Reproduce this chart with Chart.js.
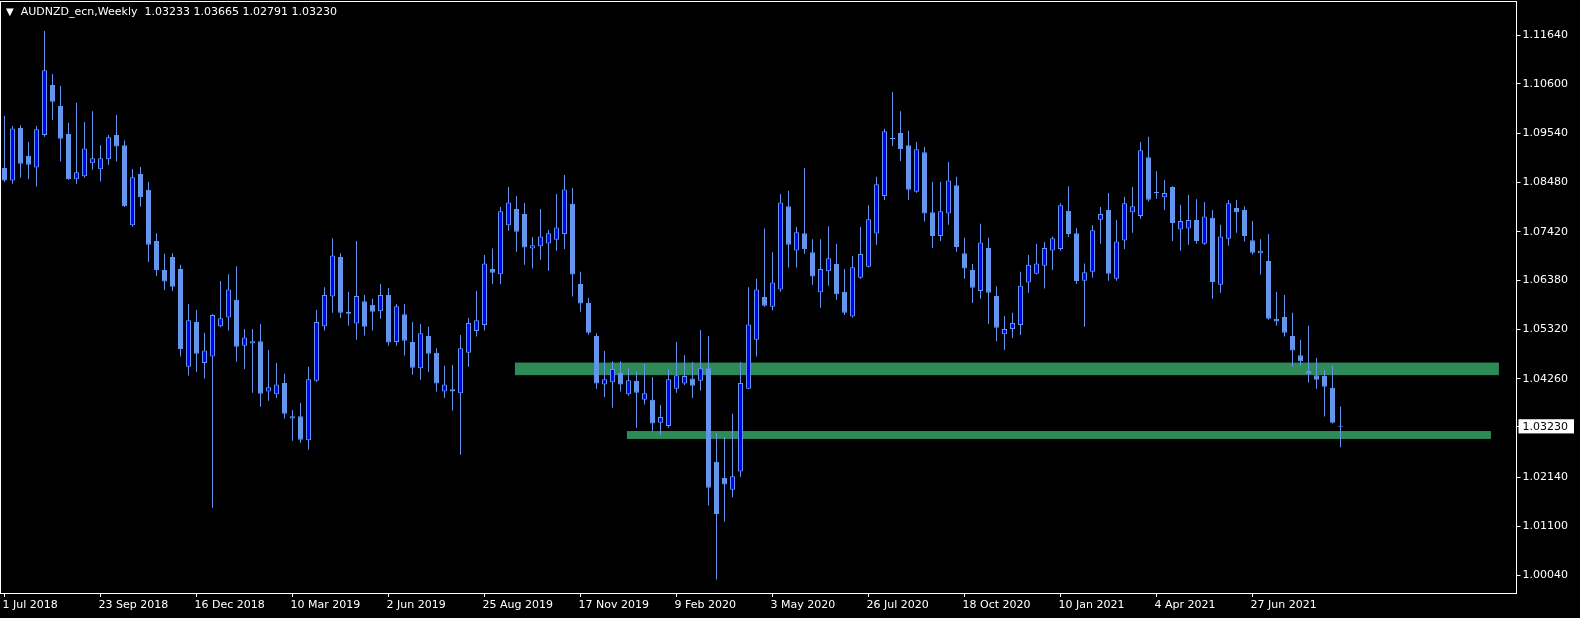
<!DOCTYPE html>
<html>
<head>
<meta charset="utf-8">
<title>AUDNZD_ecn, Weekly</title>
<script src="https://cdn.jsdelivr.net/npm/chart.js@4.4.1/dist/chart.umd.min.js"></script>
<style>
    html, body { margin: 0; padding: 0; background: #000; }
    #wrap { position: relative; width: 1580px; height: 618px; overflow: hidden; }
    #weeklyChart { display: block; }
    #chartTitle {
        position: absolute; left: 6px; top: 5px;
        color: #fff; font: 11px "DejaVu Sans", sans-serif; white-space: pre;
    }
    #chartTitle .arrow { font-size: 10px; margin-right: 7px; }
</style>
</head>
<body>
<div id="wrap">
    <canvas id="weeklyChart" width="1580" height="618"></canvas>
    <div id="chartTitle"></div>
</div>
<script>
const symbolName = "AUDNZD_ecn";
const periodName = "Weekly";

const xTickLabels = ["1 Jul 2018", "23 Sep 2018", "16 Dec 2018", "10 Mar 2019", "2 Jun 2019", "25 Aug 2019",
    "17 Nov 2019", "9 Feb 2020", "3 May 2020", "26 Jul 2020", "18 Oct 2020", "10 Jan 2021", "4 Apr 2021", "27 Jun 2021"];
const barsPerTick = 12;

const yTickValues = [1.11640, 1.10600, 1.09540, 1.08480, 1.07420, 1.06380, 1.05320, 1.04260, 1.02140, 1.01100, 1.00040];
const currentPrice = 1.03230;

// weekly candles, oldest first
const opens = [
    1.0879, 1.0852, 1.0965, 1.0905, 1.0880, 1.0950, 1.1057, 1.1012, 1.0952, 1.0855,
    1.0861, 1.0889, 1.0876, 1.0898, 1.0950, 1.0928, 1.0756, 1.0866, 1.0832, 1.0722,
    1.0660, 1.0688, 1.0662, 1.0452, 1.0548, 1.0460, 1.0474, 1.0539, 1.0558, 1.0596,
    1.0497, 1.0502, 1.0507, 1.0399, 1.0393, 1.0417, 1.0341, 1.0346, 1.0294, 1.0422,
    1.0539, 1.0603, 1.0688, 1.0570, 1.0545, 1.0593, 1.0585, 1.0571, 1.0606, 1.0505,
    1.0565, 1.0505, 1.0449, 1.0518, 1.0482, 1.0399, 1.0404, 1.0395, 1.0482, 1.0529,
    1.0542, 1.0662, 1.0651, 1.0756, 1.0791, 1.0780, 1.0706, 1.0711, 1.0717, 1.0725,
    1.0737, 1.0802, 1.0630, 1.0589, 1.0518, 1.0414, 1.0419, 1.0439, 1.0393, 1.0422,
    1.0381, 1.0381, 1.0332, 1.0325, 1.0405, 1.0416, 1.0427, 1.0422, 1.0449, 1.0248,
    1.0213, 1.0188, 1.0227, 1.0405, 1.0510, 1.0602, 1.0581, 1.0618, 1.0797, 1.0702,
    1.0739, 1.0698, 1.0612, 1.0657, 1.0673, 1.0613, 1.0560, 1.0643, 1.0667, 1.0738,
    1.0819, 1.0941, 1.0954, 1.0928, 1.0828, 1.0913, 1.0784, 1.0733, 1.0781, 1.0842,
    1.0696, 1.0660, 1.0615, 1.0707, 1.0604, 1.0522, 1.0533, 1.0542, 1.0633, 1.0652,
    1.0669, 1.0702, 1.0705, 1.0787, 1.0739, 1.0637, 1.0656, 1.0768, 1.0789, 1.0641,
    1.0723, 1.0784, 1.0776, 1.0902, 1.0827, 1.0816, 1.0838, 1.0747, 1.0749, 1.0767,
    1.0716, 1.0772, 1.0628, 1.0727, 1.0793, 1.0789, 1.0724, 1.0696, 1.0679, 1.0555,
    1.0559, 1.0518, 1.0477, 1.0443, 1.0434, 1.0432, 1.0407, 1.03233
];
const highs = [
    1.0991, 1.0969, 1.0971, 1.0935, 1.0969, 1.1173, 1.1081, 1.1055, 1.0976, 1.1019,
    1.0978, 1.1001, 1.0928, 1.0950, 1.0993, 1.0938, 1.0877, 1.0881, 1.0849, 1.0739,
    1.0695, 1.0696, 1.0671, 1.0587, 1.0574, 1.0525, 1.0565, 1.0636, 1.0651, 1.0668,
    1.0533, 1.0533, 1.0544, 1.0488, 1.0460, 1.0437, 1.0359, 1.0374, 1.0452, 1.0574,
    1.0623, 1.0728, 1.0696, 1.0613, 1.0722, 1.0606, 1.0598, 1.0630, 1.0621, 1.0587,
    1.0587, 1.0548, 1.0544, 1.0538, 1.0492, 1.0454, 1.0456, 1.0520, 1.0557, 1.0615,
    1.0692, 1.0706, 1.0795, 1.0838, 1.0819, 1.0804, 1.0731, 1.0791, 1.0746, 1.0823,
    1.0864, 1.0836, 1.0656, 1.0600, 1.0524, 1.0486, 1.0464, 1.0464, 1.0449, 1.0442,
    1.0458, 1.0430, 1.0370, 1.0447, 1.0505, 1.0477, 1.0462, 1.0531, 1.0518, 1.0310,
    1.0301, 1.0351, 1.0462, 1.0623, 1.0641, 1.0749, 1.0698, 1.0823, 1.0830, 1.0752,
    1.0879, 1.0726, 1.0726, 1.0754, 1.0716, 1.0662, 1.0690, 1.0752, 1.0799, 1.0860,
    1.0963, 1.1042, 1.1001, 1.0959, 1.0935, 1.0924, 1.0849, 1.0849, 1.0892, 1.0860,
    1.0729, 1.0673, 1.0759, 1.0729, 1.0625, 1.0561, 1.0568, 1.0656, 1.0692, 1.0716,
    1.0720, 1.0732, 1.0803, 1.0840, 1.0750, 1.0674, 1.0756, 1.0795, 1.0825, 1.0767,
    1.0817, 1.0838, 1.0935, 1.0946, 1.0872, 1.0853, 1.0840, 1.0800, 1.0821, 1.0812,
    1.0806, 1.0789, 1.0757, 1.0810, 1.0810, 1.0797, 1.0765, 1.0726, 1.0737, 1.0613,
    1.0606, 1.0568, 1.0510, 1.0540, 1.0471, 1.0445, 1.0454, 1.03665
];
const lows = [
    1.0849, 1.0845, 1.0858, 1.0855, 1.0839, 1.0946, 1.0982, 1.0893, 1.0853, 1.0845,
    1.0858, 1.0875, 1.0850, 1.0886, 1.0893, 1.0795, 1.0753, 1.0796, 1.0677, 1.0647,
    1.0617, 1.0615, 1.0474, 1.0433, 1.0441, 1.0427, 1.0149, 1.0537, 1.0530, 1.0463,
    1.0447, 1.0396, 1.0366, 1.0379, 1.0385, 1.0341, 1.0293, 1.0289, 1.0274, 1.0420,
    1.0530, 1.0568, 1.0557, 1.0540, 1.0510, 1.0519, 1.0530, 1.0555, 1.0497, 1.0497,
    1.0476, 1.0435, 1.0424, 1.0441, 1.0399, 1.0385, 1.0358, 1.0263, 1.0452, 1.0517,
    1.0530, 1.0630, 1.0629, 1.0744, 1.0699, 1.0671, 1.0663, 1.0682, 1.0658, 1.0701,
    1.0705, 1.0603, 1.0570, 1.0521, 1.0405, 1.0387, 1.0364, 1.0399, 1.0390, 1.0321,
    1.0371, 1.0313, 1.0306, 1.0321, 1.0396, 1.0413, 1.0385, 1.0401, 1.0154, 0.9995,
    1.0119, 1.0172, 1.0216, 1.0404, 1.0474, 1.0581, 1.0573, 1.0613, 1.0665, 1.0665,
    1.0695, 1.0628, 1.0579, 1.0626, 1.0596, 1.0563, 1.0558, 1.0641, 1.0665, 1.0714,
    1.0810, 1.0926, 1.0894, 1.0810, 1.0826, 1.0764, 1.0707, 1.0722, 1.0757, 1.0699,
    1.0641, 1.0589, 1.0598, 1.0544, 1.0507, 1.0488, 1.0514, 1.0520, 1.0611, 1.0650,
    1.0620, 1.0660, 1.0701, 1.0731, 1.0630, 1.0538, 1.0643, 1.0716, 1.0637, 1.0637,
    1.0705, 1.0740, 1.0770, 1.0807, 1.0813, 1.0789, 1.0722, 1.0701, 1.0714, 1.0716,
    1.0714, 1.0598, 1.0611, 1.0712, 1.0740, 1.0721, 1.0693, 1.0650, 1.0553, 1.0540,
    1.0517, 1.0452, 1.0454, 1.0418, 1.0405, 1.0345, 1.0330, 1.02791
];
const closes = [
    1.0852, 1.0964, 1.0888, 1.0886, 1.0962, 1.1089, 1.1021, 1.0942, 1.0855, 1.0870,
    1.0921, 1.0900, 1.0900, 1.0945, 1.0925, 1.0797, 1.0859, 1.0816, 1.0714, 1.0660,
    1.0635, 1.0624, 1.0490, 1.0552, 1.0480, 1.0487, 1.0563, 1.0556, 1.0618, 1.0495,
    1.0515, 1.0507, 1.0394, 1.0408, 1.0414, 1.0351, 1.0346, 1.0295, 1.0425, 1.0548,
    1.0606, 1.0691, 1.0568, 1.0566, 1.0604, 1.0538, 1.0570, 1.0606, 1.0504, 1.0582,
    1.0508, 1.0450, 1.0524, 1.0480, 1.0416, 1.0414, 1.0399, 1.0492, 1.0546, 1.0552,
    1.0674, 1.0654, 1.0786, 1.0805, 1.0742, 1.0708, 1.0713, 1.0732, 1.0739, 1.0751,
    1.0833, 1.0650, 1.0588, 1.0525, 1.0416, 1.0425, 1.0447, 1.0414, 1.0423, 1.0396,
    1.0395, 1.0330, 1.0344, 1.0425, 1.0434, 1.0432, 1.0411, 1.0449, 1.0192, 1.0136,
    1.0199, 1.0217, 1.0417, 1.0543, 1.0618, 1.0583, 1.0633, 1.0805, 1.0714, 1.0741,
    1.0705, 1.0646, 1.0662, 1.0685, 1.0608, 1.0568, 1.0666, 1.0694, 1.0769, 1.0844,
    1.0958, 1.0941, 1.0920, 1.0832, 1.0919, 1.0781, 1.0733, 1.0786, 1.0852, 1.0709,
    1.0663, 1.0622, 1.0719, 1.0611, 1.0536, 1.0533, 1.0546, 1.0626, 1.0671, 1.0674,
    1.0707, 1.0728, 1.0799, 1.0737, 1.0636, 1.0655, 1.0745, 1.0780, 1.0652, 1.0721,
    1.0803, 1.0797, 1.0917, 1.0811, 1.0825, 1.0825, 1.0761, 1.0765, 1.0767, 1.0722,
    1.0775, 1.0634, 1.0732, 1.0803, 1.0784, 1.0733, 1.0697, 1.0701, 1.0555, 1.0549,
    1.0525, 1.0487, 1.0464, 1.0437, 1.0424, 1.0409, 1.0332, 1.03230
];

// the two green rectangles: start/end in bars, top/bottom in price
const zoneFrom = [63.8, 77.8];
const zoneTo = [186.8, 185.8];
const zoneHigh = [1.0461, 1.0314];
const zoneLow = [1.0434, 1.0297];

const bullColor = "#0000ff";
const bearColor = "#6495ed";
const wickColor = "#6495ed";
const zoneColor = "#2e8b57";

Chart.defaults.font.family = "'DejaVu Sans', sans-serif";
Chart.defaults.font.size = 11;
Chart.defaults.color = "#ffffff";

function isBull(i) {
    return closes[i] > opens[i];
}

function setTitle() {
    const last = opens.length - 1;
    const values = [opens[last], highs[last], lows[last], closes[last]].map(v => v.toFixed(5)).join(" ");
    document.getElementById("chartTitle").innerHTML =
        `<span class="arrow">▼</span>${symbolName},${periodName}  ${values}`;
}

const zonesAndFrame = {
    id: "zonesAndFrame",
    beforeDatasetsDraw(chart) {
        const { ctx, scales: { x, y } } = chart;
        ctx.save();
        ctx.fillStyle = zoneColor;
        zoneFrom.forEach((start, k) => {
            const x0 = x.getPixelForValue(start);
            const x1 = x.getPixelForValue(zoneTo[k]);
            const y0 = y.getPixelForValue(zoneHigh[k]);
            const y1 = y.getPixelForValue(zoneLow[k]);
            ctx.fillRect(x0, y0, x1 - x0, y1 - y0);
        });
        ctx.restore();
    },
    afterDraw(chart) {
        const { ctx, chartArea } = chart;
        ctx.save();
        ctx.strokeStyle = "#ffffff";
        ctx.lineWidth = 1;
        ctx.strokeRect(0.5, 1.5, chartArea.right - 0.5, chartArea.bottom - 1);
        ctx.restore();
    }
};

function drawChart() {
    const canvas = document.getElementById("weeklyChart");
    const bodyData = opens.map((o, i) => ({ x: i, y: [o, closes[i]] }));
    const wickData = opens.map((o, i) => ({ x: i, y: [lows[i], highs[i]] }));

    new Chart(canvas, {
        type: "bar",
        data: {
            datasets: [{
                label: "Body",
                data: bodyData,
                grouped: false,
                barThickness: 5,
                minBarLength: 1,
                inflateAmount: 0,
                backgroundColor: ctx => isBull(ctx.dataIndex) ? bullColor : bearColor,
                borderColor: bearColor,
                borderWidth: 1,
                borderSkipped: false
            }, {
                label: "Wick",
                data: wickData,
                grouped: false,
                barThickness: 1,
                inflateAmount: 0,
                backgroundColor: wickColor,
                borderWidth: 0
            }]
        },
        options: {
            responsive: false,
            animation: false,
            devicePixelRatio: 1,
            layout: { padding: { left: 0.5, top: 2, right: 0, bottom: 0 } },
            plugins: {
                legend: { display: false },
                tooltip: { enabled: false }
            },
            scales: {
                x: {
                    type: "linear",
                    min: -0.5,
                    max: 189,
                    offset: false,
                    border: { display: false },
                    grid: { drawOnChartArea: false, tickLength: 4, color: "#ffffff", offset: false },
                    ticks: {
                        autoSkip: false,
                        maxRotation: 0,
                        align: "start",
                        labelOffset: -2,
                        padding: 2,
                        color: "#ffffff",
                        callback: value => xTickLabels[Math.round(value / barsPerTick)]
                    },
                    afterBuildTicks: scale => {
                        scale.ticks = xTickLabels.map((t, k) => ({ value: k * barsPerTick }));
                    },
                    afterFit: scale => {
                        scale.height = 25;
                        scale.paddingLeft = 0;
                        scale.paddingRight = 0;
                    }
                },
                y: {
                    type: "linear",
                    position: "right",
                    min: 0.99661,
                    max: 1.12355,
                    beginAtZero: false,
                    border: { display: false },
                    grid: { drawOnChartArea: false, tickLength: 4, color: "#ffffff" },
                    ticks: {
                        autoSkip: false,
                        padding: 2,
                        color: c => (c.tick && c.tick.value === currentPrice) ? "#000000" : "#ffffff",
                        showLabelBackdrop: c => !!(c.tick && c.tick.value === currentPrice),
                        backdropColor: "#ffffff",
                        backdropPadding: { left: 4, right: 6, top: 1, bottom: 0 },
                        callback: value => Number(value).toFixed(5)
                    },
                    afterBuildTicks: scale => {
                        scale.ticks = yTickValues.concat([currentPrice]).map(v => ({ value: v }));
                    },
                    afterFit: scale => {
                        scale.width = 63.5;
                        scale.paddingTop = 0;
                        scale.paddingBottom = 0;
                    }
                }
            }
        },
        plugins: [zonesAndFrame]
    });
}

document.addEventListener("DOMContentLoaded", () => {
    setTitle();
    drawChart();
});
</script>
</body>
</html>
